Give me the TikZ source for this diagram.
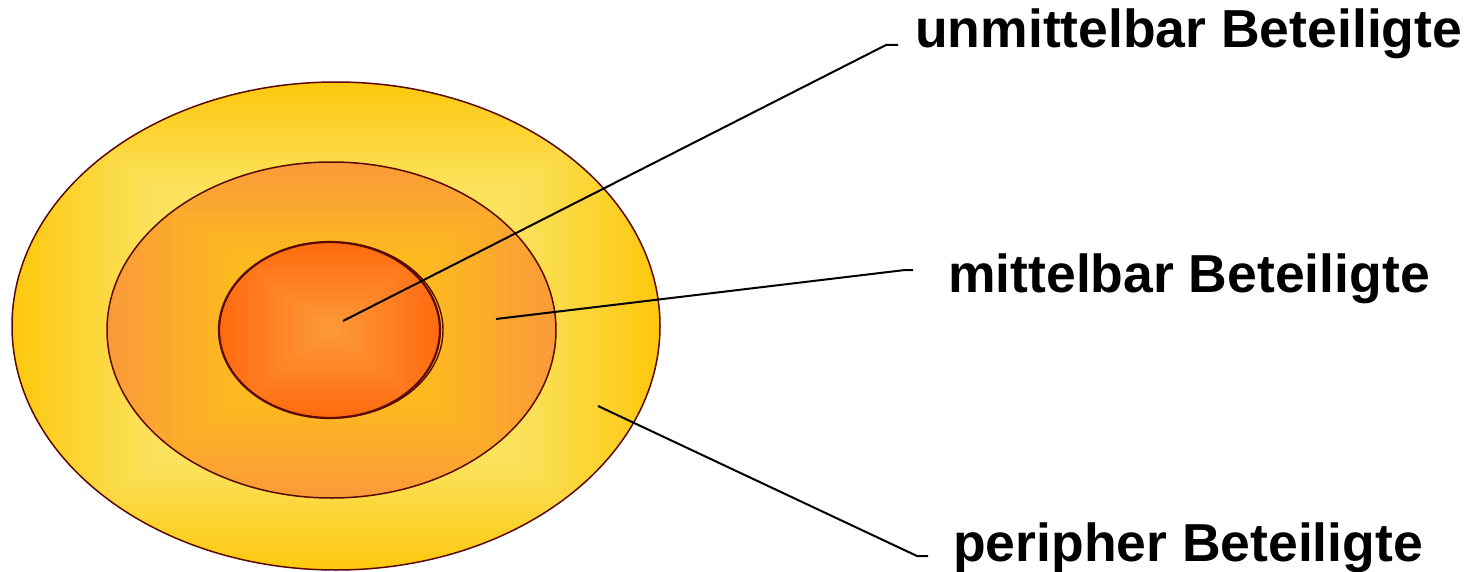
\documentclass[tikz,border=0pt]{standalone}
\usepackage{fontspec}
\setmainfont{Liberation Sans}
\definecolor{rimc}{HTML}{5A0A05}
\definecolor{outerE}{HTML}{FDC80E}
\definecolor{outerM}{HTML}{FBE25C}
\definecolor{midE}{HTML}{FA9A3A}
\definecolor{midM}{HTML}{FDB920}
\definecolor{innE}{HTML}{FF6A0E}
\definecolor{innM}{HTML}{FE8224}
\definecolor{innC}{HTML}{FD9A3A}
% box gradient clipped to an ellipse: cx cy rx ry colour@0 m colour@m colour@1
\newcommand\boxgradfill[8]{%
  \begin{scope}
    \clip (#1,#2) ellipse [x radius=#3, y radius=#4];
    \foreach \kk in {60,59,...,1}{%
      \pgfmathsetmacro\tval{\kk/60}%
      \ifdim\tval pt<#6pt
        \pgfmathtruncatemacro\pval{100*\tval/#6}%
        \colorlet{bgc}{#7!\pval!#5}%
      \else
        \pgfmathtruncatemacro\pval{100*(\tval-#6)/(1-#6)}%
        \colorlet{bgc}{#8!\pval!#7}%
      \fi
      \pgfmathsetmacro\xa{#1-\tval*#3}%
      \pgfmathsetmacro\xb{#1+\tval*#3}%
      \pgfmathsetmacro\ya{#2-\tval*#4}%
      \pgfmathsetmacro\yb{#2+\tval*#4}%
      \fill[bgc] (\xa,\ya) rectangle (\xb,\yb);
    }
  \end{scope}}
\tikzset{
  rim/.style={draw=rimc, line width=1.5pt},
  leader/.style={draw=black, line width=2pt},
  lbl/.style={anchor=base west, inner sep=0pt, font=\fontsize{53.5}{60}\selectfont\bfseries}
}
\begin{document}
\begin{tikzpicture}[x=1pt,y=-1pt]
\useasboundingbox (0,0) rectangle (1470,572);
% outer ring
\boxgradfill{336}{326}{324}{244}{outerM}{0.57}{outerM}{outerE}
\draw[rim] (336,326) ellipse [x radius=324, y radius=244];
% middle ring
\boxgradfill{331.5}{330}{224.5}{168}{midM}{0.45}{midM}{midE}
\draw[rim] (331.5,330) ellipse [x radius=224.5, y radius=168];
% inner core
\boxgradfill{329.5}{330}{110.5}{88}{innC}{0.5}{innM}{innE}
\draw[rim, line width=2.2pt] (329.5,330) ellipse [x radius=110.5, y radius=88];
\draw[rim, line width=1.4pt] (331,330) ellipse [x radius=112, y radius=88];
% labels
\node[lbl] (t1) at (915,48) {unmittelbar Beteiligte};
\node[lbl] (t2) at (948,292) {mittelbar Beteiligte};
\node[lbl] (t3) at (953,561) {peripher Beteiligte};
% leader points
\coordinate (a1) at (343,321);
\coordinate (b1) at (886,45);
\coordinate (c1) at (898,45);
\coordinate (a2) at (496,319);
\coordinate (b2) at (905,270);
\coordinate (c2) at (913,270);
\coordinate (a3) at (598,406);
\coordinate (b3) at (917,556);
\coordinate (c3) at (928,556);
\draw[leader] (a1) -- (b1) -- (c1);
\draw[leader] (a2) -- (b2) -- (c2);
\draw[leader] (a3) -- (b3) -- (c3);
\end{tikzpicture}
\end{document}
